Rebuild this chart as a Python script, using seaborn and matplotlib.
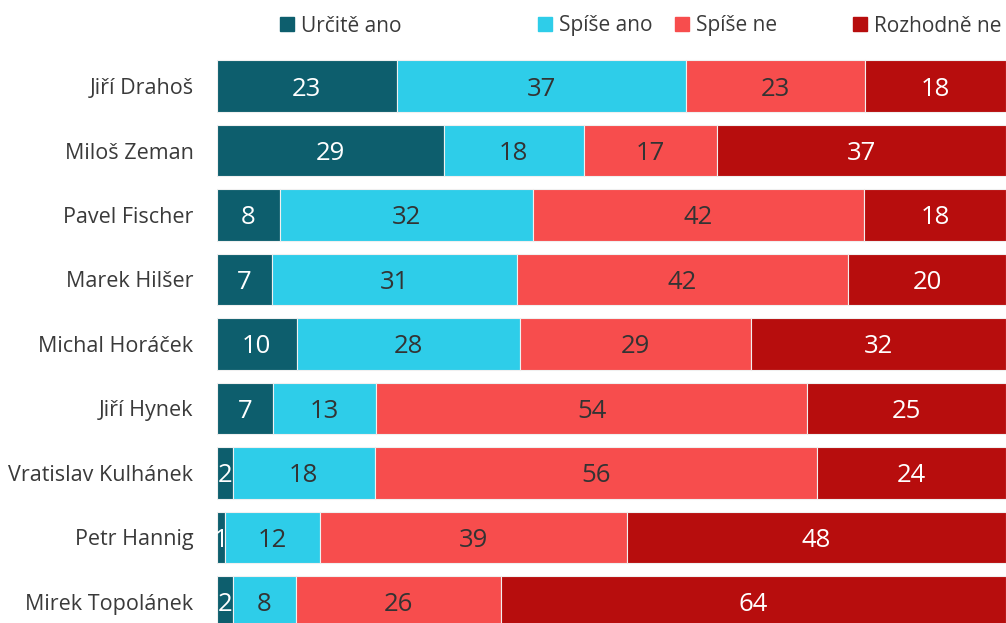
import numpy as np
import pandas as pd
import matplotlib
matplotlib.use('Agg')
import matplotlib.pyplot as plt
from matplotlib.lines import Line2D
import seaborn as sns

# ── Data ─────────────────────────────────────────────────────
candidates = ['Jiří Drahoš', 'Miloš Zeman', 'Pavel Fischer', 'Marek Hilšer',
              'Michal Horáček', 'Jiří Hynek', 'Vratislav Kulhánek',
              'Petr Hannig', 'Mirek Topolánek']
urcite_ano   = [23, 29, 8, 7, 10, 7, 2, 1, 2]
spise_ano    = [37, 18, 32, 31, 28, 13, 18, 12, 8]
spise_ne     = [23, 17, 42, 42, 29, 54, 56, 39, 26]
rozhodne_ne  = [18, 37, 18, 20, 32, 25, 24, 48, 64]

series = ['Určitě ano', 'Spíše ano', 'Spíše ne', 'Rozhodně ne']
colors = ['#0d5e6d', '#2ecde9', '#f74d4d', '#b70d0d']
text_colors = ['white', '#333333', '#333333', 'white']

df = pd.DataFrame({'Kandidát': candidates,
                   'Určitě ano': urcite_ano,
                   'Spíše ano': spise_ano,
                   'Spíše ne': spise_ne,
                   'Rozhodně ne': rozhodne_ne})

# 100 % stacked -> normalise each row
totals = df[series].sum(axis=1)
pct = df[series].div(totals, axis=0) * 100

sns.set_style('white')
plt.rcParams['font.family'] = ['Open Sans', 'DejaVu Sans']

fig = plt.figure(figsize=(10.06, 6.23), dpi=100)
ax = fig.add_axes([0.2157, -0.0177, 0.7843, 0.9313])

left = np.zeros(len(df))
for s, c, tc in zip(series, colors, text_colors):
    sns.barplot(x=pct[s].values, y=df['Kandidát'], orient='y', ax=ax,
                color=c, saturation=1, width=0.8, left=left,
                edgecolor='#f0f0f0', linewidth=0.8)
    cont = ax.containers[-1]
    txts = ax.bar_label(cont, labels=[str(v) for v in df[s]],
                        label_type='center', color=tc, fontsize=18.5)
    for t in txts:
        t.set_clip_on(True)
        t.set_va('center_baseline')
    left = left + pct[s].values

ax.set_xlim(0, 100)
ax.set_ylim(8.5, -0.5)
ax.set_xlabel('')
ax.set_ylabel('')
ax.set_xticks([])
ax.tick_params(axis='y', length=0, pad=17, labelsize=15.5, labelcolor='#3a3a3a')
sns.despine(ax=ax, left=True, bottom=True)

# ── Legend (one entry per position, as in the original) ─────
leg_x = [281, 539, 676, 854]
for s, c, x in zip(series, colors, leg_x):
    h = Line2D([], [], marker='s', color=c, linestyle='', markersize=9.5)
    fig.legend(handles=[h], labels=[s], loc='center left',
               bbox_to_anchor=(x / 1006, 1 - 26 / 623), frameon=False,
               handlelength=0.6, handletextpad=0.35, borderpad=0,
               borderaxespad=0, fontsize=15, labelcolor='#3a3a3a')

fig.savefig('out.png', dpi=100)
